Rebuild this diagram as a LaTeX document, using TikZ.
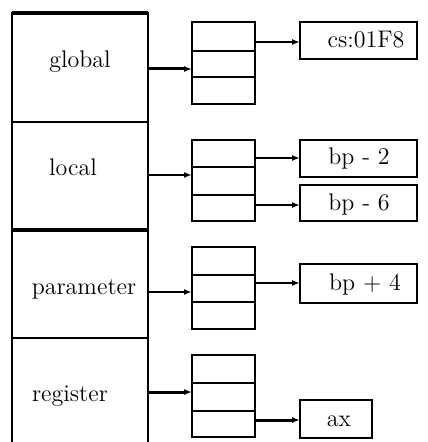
\documentclass[tikz,border=0pt]{standalone}
\usetikzlibrary{arrows.meta,fit}
\begin{document}
\begin{tikzpicture}[x=0.5pt,y=-0.5pt,
  every node/.style={font=\fontsize{12}{14}\selectfont},
  sec/.style={inner sep=0pt,outer sep=0pt,draw,line width=1.2pt},
  cell/.style={inner sep=0pt,outer sep=0pt,draw,line width=1.4pt},
  valbox/.style={inner sep=0pt,outer sep=0pt,draw,line width=1.4pt},
  lbl/.style={inner sep=0pt,anchor=base},
  conn/.style={line width=1.1pt,-{Latex[length=4pt,width=3pt]}},
  tconn/.style={line width=1.5pt,-{Latex[length=4pt,width=3pt]}}]
\useasboundingbox (0,0) rectangle (427,442);
% left sections
\node[sec,fit={(12,13)(148,122)}] (gsec) {};
\node[sec,fit={(12,122)(148,230)}] (lsec) {};
\node[sec,fit={(12,230)(148,338)}] (psec) {};
\node[inner sep=0pt,outer sep=0pt,fit={(12,338)(148,442)}] (rsec) {};
\draw[line width=1.2pt] (rsec.south west) -- (rsec.north west) -- (rsec.north east) -- (rsec.south east);
\draw[line width=1.6pt] (gsec.north west) -- (gsec.north east);
\draw[line width=1.6pt] (psec.north west) -- (psec.north east);
\node[lbl] at (80,68) {global};
\node[lbl] at (73,176) {local};
\node[lbl] at (84,294) {parameter};
\node[lbl] at (70,401) {register};
% stacks
\node[cell,fit={(192,22)(255,51)}] (g1) {};
\node[cell,fit={(192,51)(255,77)}] (g2) {};
\node[cell,fit={(192,77)(255,104)}] (g3) {};
\node[cell,fit={(192,140)(255,167)}] (l1) {};
\node[cell,fit={(192,167)(255,195)}] (l2) {};
\node[cell,fit={(192,195)(255,221)}] (l3) {};
\node[cell,fit={(192,247)(255,275)}] (p1) {};
\node[cell,fit={(192,275)(255,302)}] (p2) {};
\node[cell,fit={(192,302)(255,329)}] (p3) {};
\node[cell,fit={(192,355)(255,383)}] (r1) {};
\node[cell,fit={(192,383)(255,411)}] (r2) {};
\node[cell,fit={(192,411)(255,437)}] (r3) {};
% value boxes
\node[valbox,fit={(300,22)(417,59)}] (cs) {};
\node[lbl] at (366,48) {cs:01F8};
\node[valbox,fit={(300,140)(417,177)}] (bpa) {};
\node[lbl] at (359,165) {bp - 2};
\node[valbox,fit={(300,185)(417,221)}] (bpb) {};
\node[lbl] at (359,211) {bp - 6};
\node[valbox,fit={(300,264)(417,303)}] (bpc) {};
\node[lbl] at (365,290) {bp $+$ 4};
\node[valbox,fit={(300,400)(372,438)}] (ax) {};
\node[lbl] at (339,426) {ax};
% connectors from sections
\draw[tconn] (148,69) coordinate (ga) -- (ga -| g2.west);
\draw[conn] (148,175) coordinate (la) -- (la -| l2.west);
\draw[conn] (148,292) coordinate (pa) -- (pa -| p2.west);
\draw[tconn] (148,392) coordinate (ra) -- (ra -| r2.west);
% connectors to values
\draw[conn] (g1.east |- 0,42) -- (cs.west |- 0,42);
\draw[conn] (l1.east |- 0,158) -- (bpa.west |- 0,158);
\draw[conn] (l3.east |- 0,205) -- (bpb.west |- 0,205);
\draw[conn] (p2.east |- 0,283) -- (bpc.west |- 0,283);
\draw[tconn] (r3.east |- 0,420) -- (ax.west |- 0,420);
\end{tikzpicture}
\end{document}
